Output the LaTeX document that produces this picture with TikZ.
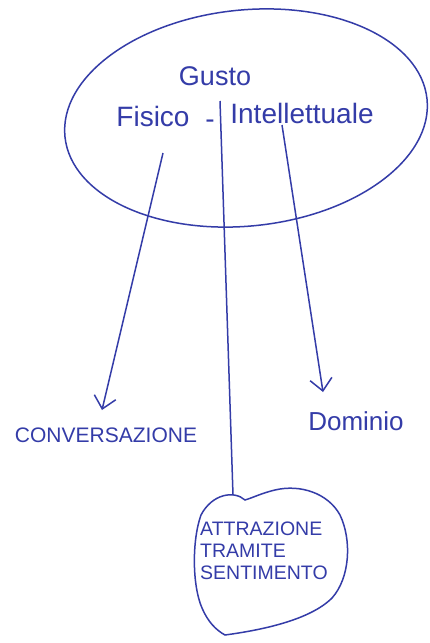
\documentclass[tikz,border=0pt]{standalone}
\usepackage{fontspec}
\setmainfont{Liberation Sans}
\usetikzlibrary{shapes.geometric,arrows.meta}
\definecolor{ink}{RGB}{52,60,168}
\tikzset{
  ink/.style={draw=ink, line width=1.5pt},
  lbl/.style={text=ink, inner sep=0pt},
  arr/.style={ink, -{Straight Barb[length=12pt,width=22pt,line width=1.5pt]}},
}
\begin{document}
\begin{tikzpicture}[x=1pt,y=-1pt]
\useasboundingbox[fill=white] (0,0) rectangle (429,643);
% ellipse
\node[ellipse, ink, inner sep=0pt, minimum width=364pt, minimum height=216pt, rotate=6] (ell) at (246,118) {};
% texts
\node[lbl, font=\fontsize{27}{30}\selectfont] (gusto) at (215,76) {Gusto};
\node[lbl, font=\fontsize{28}{30}\selectfont] (fis) at (153,116) {Fisico};
\node[lbl, font=\fontsize{28}{30}\selectfont] (dash) at (210,124) {-};
\node[lbl, font=\fontsize{28}{30}\selectfont] (intel) at (302,113) {Intellettuale};
\node[lbl, font=\fontsize{21}{24}\selectfont] (conv) at (106,435) {CONVERSAZIONE};
\node[lbl, font=\fontsize{26}{28}\selectfont] (dom) at (356,421) {Dominio};
\node[lbl, font=\fontsize{19.5}{22}\selectfont, align=left, anchor=north west] (attr) at (200,522) {ATTRAZIONE\\TRAMITE\\SENTIMENTO};
% heart
\draw[ink] (245,500) .. controls (234,490) and (212,494) .. (201,515)
  .. controls (192,540) and (192,585) .. (202,608)
  .. controls (208,622) and (216,630) .. (225,635)
  .. controls (262,630) and (310,620) .. (332,598)
  .. controls (350,578) and (352,540) .. (340,515)
  .. controls (328,493) and (300,484) .. (275,490)
  .. controls (262,493) and (252,498) .. (245,500) -- cycle;
\coordinate (heartTop) at (233,495);
\coordinate (sepTop) at (220,101);
% connectors
\draw[arr] ([shift={(10,37)}]fis.center) -- ([shift={(-4,-25)}]conv.center);
\draw[arr] ([shift={(-20,12)}]intel.center) -- ([shift={(-33,-29)}]dom.center);
\draw[ink] (sepTop) -- (heartTop);
\end{tikzpicture}
\end{document}
